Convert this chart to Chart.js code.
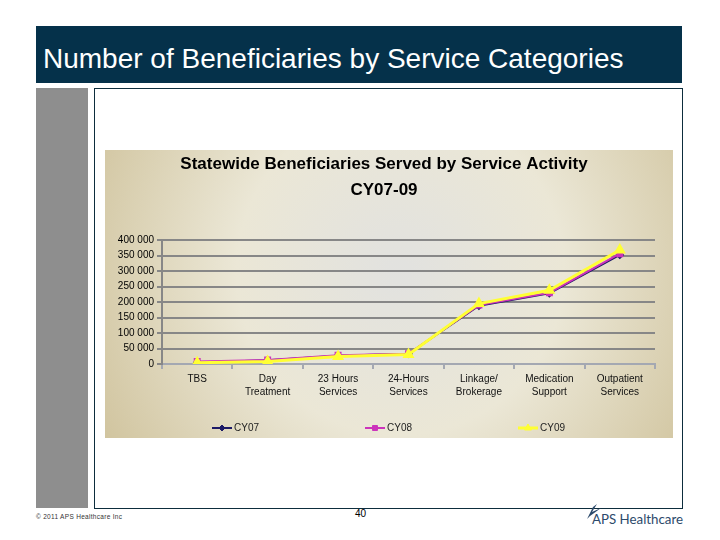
<!DOCTYPE html>
<html>
<head>
<meta charset="utf-8">
<script src="https://cdn.jsdelivr.net/npm/chart.js@4.4.1/dist/chart.umd.min.js"></script>
<style>
  body { margin: 0; width: 720px; height: 540px; position: relative; overflow: hidden; background: #fff; font-family: "Liberation Sans", Arial, sans-serif; }
  #hdr { position: absolute; left: 36px; top: 26px; width: 646px; height: 57px; background: #05314a; }
  #hdr h1 { position: absolute; left: 7px; top: 17px; margin: 0; font-size: 28px; line-height: 31px; font-weight: normal; color: #fff; white-space: nowrap; }
  #side { position: absolute; left: 36px; top: 88px; width: 52px; height: 420px; background: #8e8e8e; }
  #frame { position: absolute; left: 94px; top: 88px; width: 587px; height: 419px; border: 1px solid #0d2d3d; }
  #wrap { position: absolute; left: 105px; top: 150px; width: 568px; height: 288px; }
  #copy { position: absolute; left: 36px; top: 513px; font-size: 6.5px; letter-spacing: 0.3px; color: #333; white-space: nowrap; }
  #page { position: absolute; left: 355px; top: 508px; font-size: 10px; color: #000; }
  #logo { position: absolute; left: 580px; top: 503px; width: 104px; height: 24px; }
  #logo span { position: absolute; left: 12px; top: 8px; font-family: Lato, "Liberation Sans", sans-serif; font-size: 13.3px; line-height: 16px; color: #2d4a6b; white-space: nowrap; }
</style>
</head>
<body>
<div id="hdr"><h1>Number of Beneficiaries by Service Categories</h1></div>
<div id="side"></div>
<div id="frame"></div>
<div id="wrap"><canvas id="chart"></canvas></div>
<div id="copy">© 2011 APS Healthcare Inc</div>
<div id="page">40</div>
<div id="logo">
  <svg width="22" height="18" style="position:absolute;left:2px;top:0"><path d="M5 16 L11 4 L15 1 L10 9 L19 5 L8 13 Z" fill="#2d4a6b"/></svg>
  <span>APS Healthcare</span>
</div>
<script>
const categories = ['TBS', ['Day', 'Treatment'], ['23 Hours', 'Services'], ['24-Hours', 'Services'],
  ['Linkage/', 'Brokerage'], ['Medication', 'Support'], ['Outpatient', 'Services']];
const seriesNames = ['CY07', 'CY08', 'CY09'];
const cy07 = [5000, 12000, 27000, 33000, 188000, 228000, 352000];
const cy08 = [8000, 13000, 28000, 33000, 190000, 230000, 356000];
const cy09 = [4000, 8000, 24000, 31000, 195000, 238000, 368000];
const yMax = 400000;
const yStep = 50000;

// beige gradient behind the whole chart
const bgPlugin = {
  id: 'bg',
  beforeDraw(chart) {
    const { ctx, width, height } = chart;
    const g = ctx.createRadialGradient(width * 0.52, height * 0.42, 10, width * 0.52, height * 0.42, width * 0.62);
    g.addColorStop(0, '#e2e2df');
    g.addColorStop(0.45, '#ebe7d6');
    g.addColorStop(1, '#cfc29b');
    ctx.save();
    ctx.fillStyle = g;
    ctx.fillRect(0, 0, width, height);
    ctx.restore();
  }
};

// legend like the spreadsheet one: line with marker, then name, items spread out
const legendPlugin = {
  id: 'lineLegend',
  afterDraw(chart) {
    const ctx = chart.ctx;
    const y = chart.height - 10;
    const spacing = 153;
    const start = chart.width / 2 - (spacing * 2 + 48) / 2;
    ctx.save();
    ctx.font = '10px "Liberation Sans", Arial, sans-serif';
    ctx.textBaseline = 'middle';
    chart.data.datasets.forEach((ds, i) => {
      const x = start + i * spacing;
      ctx.strokeStyle = ds.borderColor;
      ctx.lineWidth = ds.borderWidth;
      ctx.beginPath();
      ctx.moveTo(x, y);
      ctx.lineTo(x + 20, y);
      ctx.stroke();
      ctx.fillStyle = ds.pointBackgroundColor;
      ctx.strokeStyle = ds.pointBorderColor;
      ctx.lineWidth = 1;
      Chart.helpers.drawPoint(ctx, { pointStyle: ds.pointStyle, radius: ds.pointRadius, rotation: 0, borderWidth: 1 }, x + 10, y);
      ctx.fillStyle = '#222';
      ctx.fillText(ds.label, x + 22, y);
    });
    ctx.restore();
  }
};

const fmt = v => String(v).replace(/\B(?=(\d{3})+(?!\d))/g, ' ');

new Chart(document.getElementById('chart'), {
  type: 'line',
  data: {
    labels: categories,
    datasets: [
      {
        label: seriesNames[0], data: cy07, order: 2,
        borderColor: '#1c1a66', borderWidth: 2,
        pointStyle: 'rectRot', pointRadius: 3, pointBackgroundColor: '#1c1a66', pointBorderColor: '#1c1a66'
      },
      {
        label: seriesNames[1], data: cy08, order: 1,
        borderColor: '#cc33bb', borderWidth: 2,
        pointStyle: 'rect', pointRadius: 3.5, pointBackgroundColor: '#cc33bb', pointBorderColor: '#cc33bb'
      },
      {
        label: seriesNames[2], data: cy09, order: 0,
        borderColor: '#ffff33', borderWidth: 3,
        pointStyle: 'triangle', pointRadius: 4, pointBackgroundColor: '#ffff33', pointBorderColor: '#ffff33'
      }
    ]
  },
  options: {
    responsive: true,
    maintainAspectRatio: false,
    animation: false,
    layout: { padding: { left: 8, right: 18, top: 0, bottom: 0 } },
    plugins: {
      legend: { display: false },
      tooltip: { enabled: false },
      title: {
        display: true,
        text: ['Statewide Beneficiaries Served by Service Activity', 'CY07-09'],
        color: '#000',
        font: { family: '"Liberation Sans", Arial, sans-serif', size: 17, weight: 'bold', lineHeight: 1.53 },
        padding: { top: 1, bottom: 37 }
      }
    },
    scales: {
      x: {
        offset: true,
        grid: { offset: true, drawOnChartArea: false, drawTicks: true, tickLength: 5, color: '#a4a8b2', lineWidth: 2 },
        border: { color: '#a4a8b2', width: 2 },
        ticks: { color: '#111', font: { family: '"Liberation Sans", Arial, sans-serif', size: 10, lineHeight: 1.3 }, padding: 4, maxRotation: 0, autoSkip: false },
        afterFit: s => { s.height = 74; }
      },
      y: {
        min: 0,
        max: yMax,
        ticks: { stepSize: yStep, callback: fmt, color: '#000', font: { family: '"Liberation Sans", Arial, sans-serif', size: 10 }, padding: 3 },
        grid: { color: '#878787', lineWidth: 2, tickLength: 5 },
        border: { color: '#878787', width: 2 },
        afterFit: s => { s.width = 49; }
      }
    }
  },
  plugins: [bgPlugin, legendPlugin]
});
</script>
</body>
</html>
